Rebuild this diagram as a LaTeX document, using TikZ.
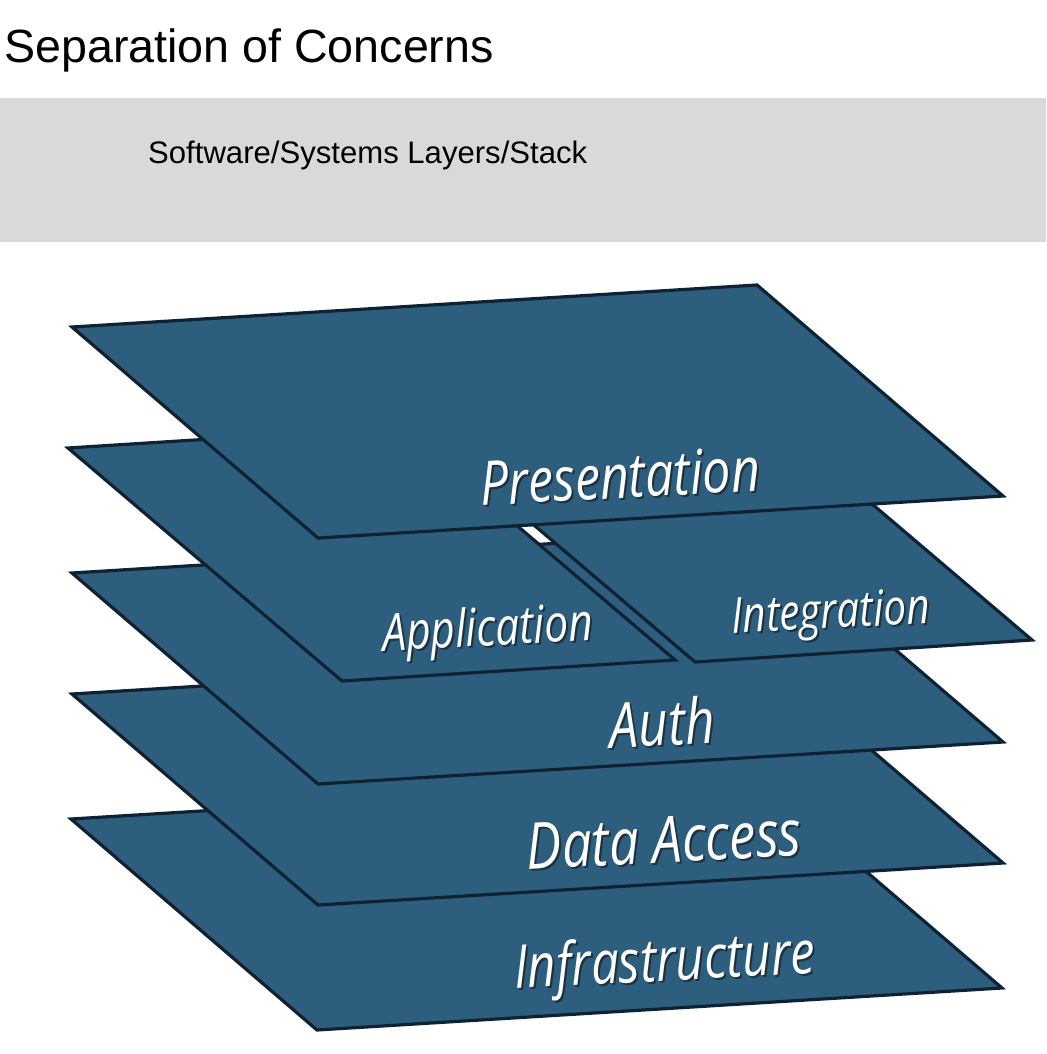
\documentclass[tikz,border=0pt]{standalone}
\usepackage{fontspec}
\usepackage{graphicx}
\setmainfont{Liberation Sans}
\newfontfamily\labelfont{Open Sans}
\definecolor{layerfill}{HTML}{2E5E7E}
\definecolor{layerline}{HTML}{0E2233}
\definecolor{bandgray}{HTML}{D9D9D9}
\newcommand{\layertext}[2]{\scalebox{1}[1.22]{\resizebox{#1}{!}{\labelfont\itshape #2}}}
\begin{document}
\begin{tikzpicture}[x=1pt,y=-1pt,
  layer/.style={fill=layerfill,draw=layerline,line width=3.2pt,line join=miter},
  lbl/.style={text=white,inner sep=0pt,rotate=3},
  lblshadow/.style={text=black,opacity=0.45,inner sep=0pt,rotate=3},
  plain/.style={inner sep=0pt,anchor=base west,text=black}]
\useasboundingbox[fill=white] (0,0) rectangle (1046,1054);

% heading
\node[plain] (title) at (4,63) {\fontsize{46.6}{46.6}\selectfont Separation of Concerns};
\node[fill=bandgray,minimum width=1046pt,minimum height=144pt,anchor=north west,inner sep=0pt] (band) at (0,98) {};
\node[plain] (sub) at (148,163) {\fontsize{31.1}{31.1}\selectfont Software/Systems Layers/Stack};

% layers, bottom to top
\path[layer] (71,819) -- ++(685,-42) -- ++(246,211) -- ++(-685,42) -- cycle;
\path[layer] (72,694) -- ++(685,-42) -- ++(246,211) -- ++(-685,42) -- cycle;
\path[layer] (72,573) -- ++(685,-42) -- ++(246,211) -- ++(-685,42) -- cycle;
\path[layer] (68,448) -- (401,427) -- (675,660) -- (342,681) -- cycle;
\path[layer] (421,429) -- (758,407) -- (1032,640) -- (695,662) -- cycle;
\path[layer] (72,327) -- ++(685,-42) -- ++(246,211) -- ++(-685,42) -- cycle;

% labels
\node[lblshadow] (infraS) at (667,967) {\layertext{301pt}{Infrastructure}};
\node[lbl] (infra) at (665,965) {\layertext{301pt}{Infrastructure}};
\node[lblshadow] (dataS) at (666,842) {\layertext{275pt}{Data Access}};
\node[lbl] (data) at (664,840) {\layertext{275pt}{Data Access}};
\node[lblshadow] (authS) at (664,724) {\layertext{105pt}{Auth}};
\node[lbl] (auth) at (662,722) {\layertext{105pt}{Auth}};
\node[lblshadow] (appS) at (490,634) {\layertext{211pt}{Application}};
\node[lbl] (app) at (488,632) {\layertext{211pt}{Application}};
\node[lblshadow] (integS) at (833,618) {\layertext{198pt}{Integration}};
\node[lbl] (integ) at (831,616) {\layertext{198pt}{Integration}};
\node[lblshadow] (presS) at (622,478) {\layertext{280pt}{Presentation}};
\node[lbl] (pres) at (620,476) {\layertext{280pt}{Presentation}};
\end{tikzpicture}
\end{document}
